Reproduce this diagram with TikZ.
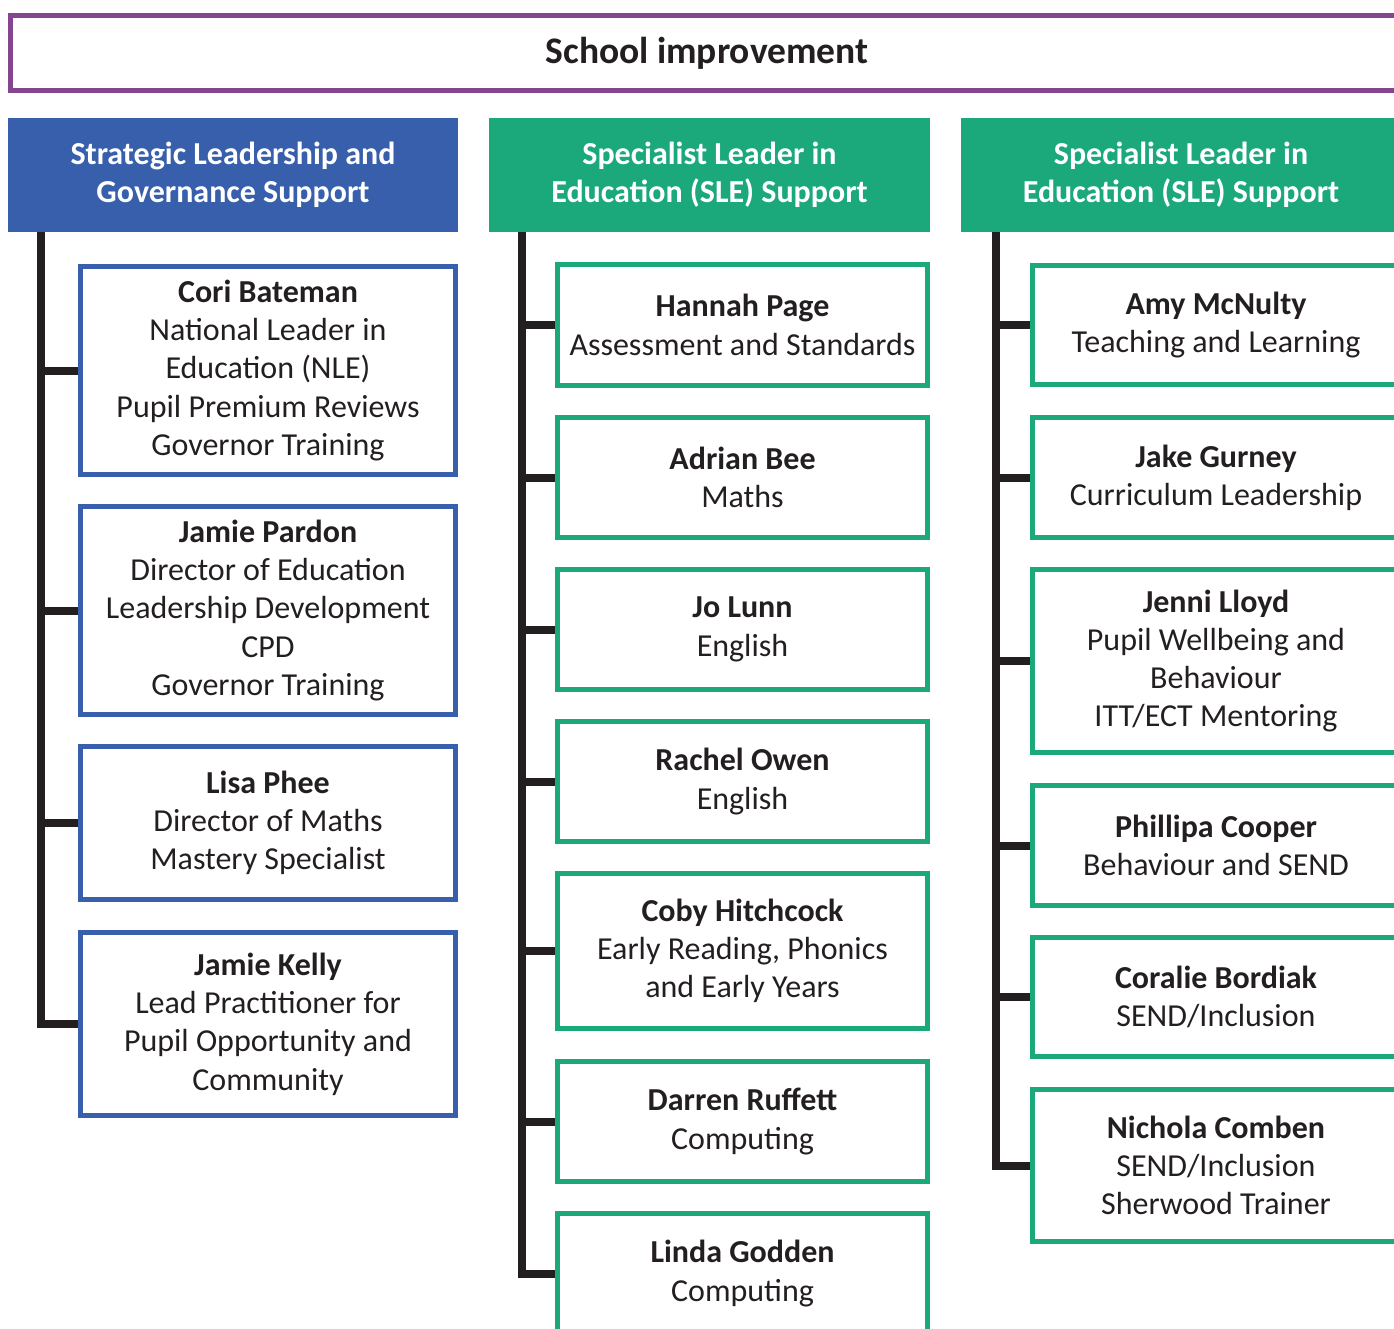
\documentclass[tikz,border=0pt]{standalone}
\usepackage{fontspec}
\setmainfont{Carlito}
\definecolor{tpurple}{HTML}{84468E}
\definecolor{tblue}{HTML}{385FAB}
\definecolor{tgreen}{HTML}{1BA87B}
\definecolor{tdark}{HTML}{231F20}
\tikzset{
  titlebox/.style={draw=tpurple, line width=5pt, rectangle, inner sep=0pt, text=tdark,
    font=\fontsize{37.5}{44}\selectfont\bfseries},
  headbox/.style={fill=#1, rectangle, inner sep=0pt, text=white, align=center,
    font=\fontsize{32}{38.3}\selectfont\bfseries},
  pbox/.style={draw=#1, line width=5pt, rectangle, inner sep=0pt, text=tdark, align=center,
    font=\fontsize{32}{38.3}\selectfont},
  trunk/.style={draw=tdark, line width=8pt},
}
\newcommand{\nm}[1]{\textbf{#1}}
\begin{document}
\begin{tikzpicture}[x=1pt,y=1pt]
\useasboundingbox (0,0) rectangle (1394,-1329);
\clip (0,0) rectangle (1394,-1329);

% title
\node[titlebox, minimum width=1393pt, minimum height=75pt] (title) at (707,-53) {School improvement};

% headers
\node[headbox=tblue, minimum width=450pt, minimum height=114pt] (h1) at (233,-175)
  {Strategic Leadership and\\Governance Support};
\node[headbox=tgreen, minimum width=441pt, minimum height=114pt] (h2) at (709.5,-175)
  {Specialist Leader in\\Education (SLE) Support};
\node[headbox=tgreen, minimum width=440pt, minimum height=114pt] (h3) at (1181,-175)
  {Specialist Leader in\\Education (SLE) Support};

% column 1
\begin{scope}[every node/.style={pbox=tblue, minimum width=375pt}]
\node[minimum height=208pt] (cori) at (268,-370.5)
  {\nm{Cori Bateman}\\National Leader in\\Education (NLE)\\Pupil Premium Reviews\\Governor Training};
\node[minimum height=208pt] (pardon) at (268,-610.5)
  {\nm{Jamie Pardon}\\Director of Education\\Leadership Development\\CPD\\Governor Training};
\node[minimum height=153pt] (phee) at (268,-823)
  {\nm{Lisa Phee}\\Director of Maths\\Mastery Specialist};
\node[minimum height=183pt] (kelly) at (268,-1024)
  {\nm{Jamie Kelly}\\Lead Practitioner for\\Pupil Opportunity and\\Community};
\end{scope}

% column 2
\begin{scope}[every node/.style={pbox=tgreen, minimum width=370pt}]
\node[minimum height=121pt] (page) at (742.5,-325)
  {\nm{Hannah Page}\\Assessment and Standards};
\node[minimum height=120pt] (bee) at (742.5,-477.5)
  {\nm{Adrian Bee}\\Maths};
\node[minimum height=120pt] (lunn) at (742.5,-629.5)
  {\nm{Jo Lunn}\\English};
\node[minimum height=120pt] (owen) at (742.5,-781.5)
  {\nm{Rachel Owen}\\English};
\node[minimum height=155pt] (hitch) at (742.5,-951)
  {\nm{Coby Hitchcock}\\Early Reading, Phonics\\and Early Years};
\node[minimum height=120pt] (ruffett) at (742.5,-1121.5)
  {\nm{Darren Ruffett}\\Computing};
\node[minimum height=120pt] (godden) at (742.5,-1273.5)
  {\nm{Linda Godden}\\Computing};
\end{scope}

% column 3
\begin{scope}[every node/.style={pbox=tgreen, minimum width=367pt}]
\node[minimum height=119pt] (mcnulty) at (1216,-325)
  {\nm{Amy McNulty}\\Teaching and Learning};
\node[minimum height=120pt] (gurney) at (1216,-477.5)
  {\nm{Jake Gurney}\\Curriculum Leadership};
\node[minimum height=183pt] (lloyd) at (1216,-661)
  {\nm{Jenni Lloyd}\\Pupil Wellbeing and\\Behaviour\\ITT/ECT Mentoring};
\node[minimum height=120pt] (cooper) at (1216,-845.5)
  {\nm{Phillipa Cooper}\\Behaviour and SEND};
\node[minimum height=119pt] (bordiak) at (1216,-997)
  {\nm{Coralie Bordiak}\\SEND/Inclusion};
\node[minimum height=152pt] (comben) at (1216,-1165.5)
  {\nm{Nichola Comben}\\SEND/Inclusion\\Sherwood Trainer};
\end{scope}

% trunks
\coordinate (t1) at (41,-232);
\coordinate (t2) at (522,-232);
\coordinate (t3) at (996,-232);

\draw[trunk] (t1) |- (kelly.west);
\foreach \n in {cori,pardon,phee} \draw[trunk] (t1 |- \n.west) -- (\n.west);

\draw[trunk] (t2) |- (godden.west);
\foreach \n in {page,bee,lunn,owen,hitch,ruffett} \draw[trunk] (t2 |- \n.west) -- (\n.west);

\draw[trunk] (t3) |- (comben.west);
\foreach \n in {mcnulty,gurney,lloyd,cooper,bordiak} \draw[trunk] (t3 |- \n.west) -- (\n.west);
\end{tikzpicture}
\end{document}
